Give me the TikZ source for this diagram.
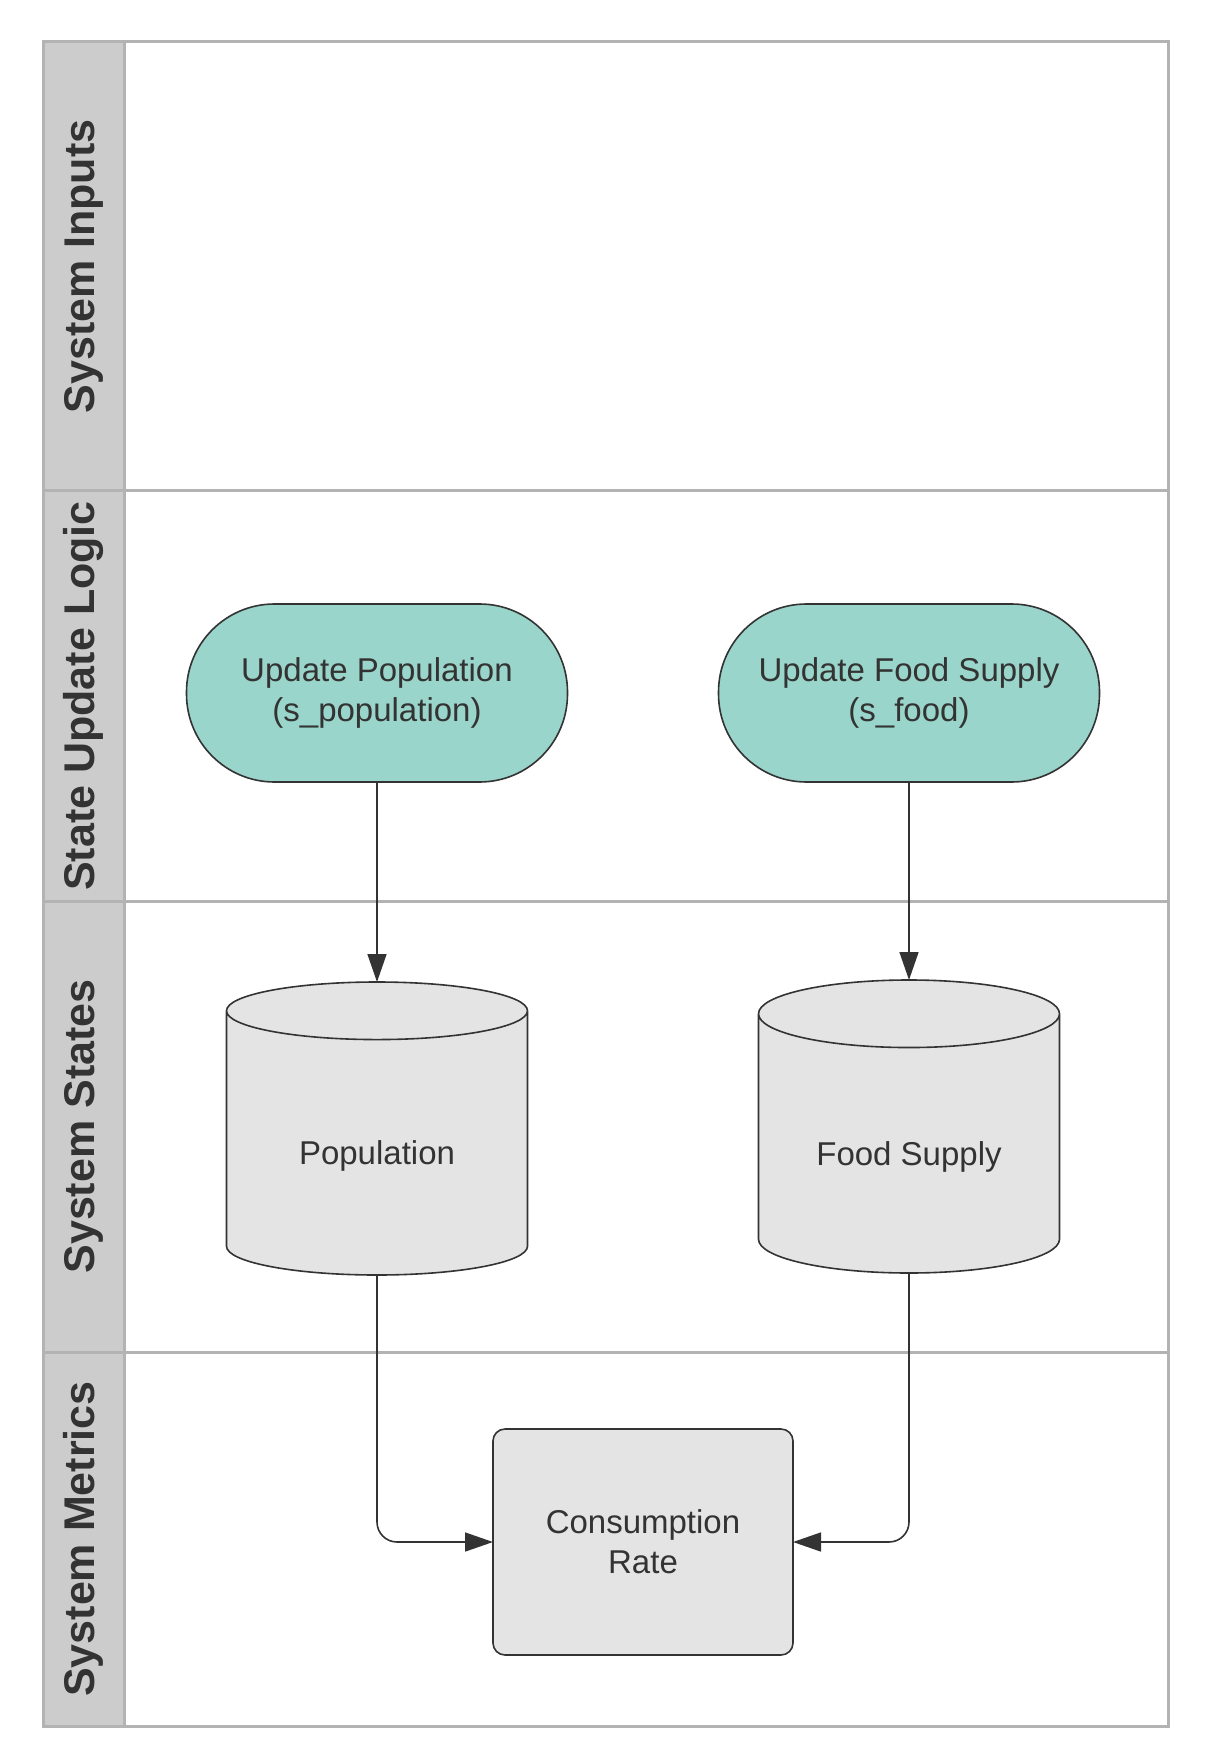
\documentclass[tikz,border=0pt]{standalone}
\usepackage{fontspec}
\setmainfont{Liberation Sans}
\usepackage{xcolor}
\usetikzlibrary{arrows.meta, shapes.geometric, positioning}

\definecolor{lanegray}{HTML}{B3B3B3}
\definecolor{headgray}{HTML}{CCCCCC}
\definecolor{inkgray}{HTML}{333333}
\definecolor{tealfill}{HTML}{99D5CA}
\definecolor{storefill}{HTML}{E4E4E4}

\begin{document}
\begin{tikzpicture}[
    x=0.5pt, y=-0.5pt,
    >={Triangle[length=14pt, width=9.5pt]},
    lane/.style={draw=lanegray, line width=1.5pt},
    lanehead/.style={rotate=90, text=inkgray, font=\fontsize{21.5}{26}\selectfont\bfseries},
    update/.style={draw=inkgray, line width=0.8pt, fill=tealfill, rounded corners=44pt,
        minimum width=190.5pt, minimum height=89pt, align=center, outer sep=0pt,
        text=inkgray, font=\fontsize{16.5}{20}\selectfont},
    store/.style={cylinder, shape border rotate=90, aspect=0.34, draw=inkgray, line width=0.8pt,
        fill=storefill, minimum width=150.5pt, minimum height=146.5pt, outer sep=0pt,
        text height=21pt, text depth=4pt,
        anchor=north, text=inkgray, font=\fontsize{16.5}{20}\selectfont},
    metric/.style={draw=inkgray, line width=0.8pt, fill=storefill, rounded corners=6pt,
        minimum width=150pt, minimum height=113pt, align=center, outer sep=0pt,
        text=inkgray, font=\fontsize{16.5}{20}\selectfont},
    flow/.style={->, draw=inkgray, line width=0.8pt, rounded corners=10pt}
]
    \useasboundingbox (0,0) rectangle (1209,1764);

    % Corsie
    \fill[headgray] (43,42) rectangle (124,1726);
    \draw[lane] (43,42) rectangle (1168,1726);
    \draw[lane] (124,42) -- (124,1726);
    \foreach \y in {491, 901, 1352}
        \draw[lane] (43,\y) -- (1168,\y);

    \node[lanehead] (inputs)  at (83.5, 266.5) {System Inputs};
    \node[lanehead] (logic)   at (83.5, 696)   {State Update Logic};
    \node[lanehead] (states)  at (83.5, 1126.5) {System States};
    \node[lanehead] (metrics) at (83.5, 1539)  {System Metrics};

    % Logica di aggiornamento
    \node[update] (updpop)  at (377, 693) {Update Population\\(s\_population)};
    \node[update] (updfood) at (909, 693) {Update Food Supply\\(s\_food)};

    % Stati
    \node[store] (pop)  at (377, 982) {Population};
    \node[store] (food) at (909, 980) {Food Supply};

    % Metrica
    \node[metric] (rate) at (643, 1542) {Consumption\\Rate};

    % Collegamenti
    \draw[flow] (updpop) -- (pop);
    \draw[flow] (updfood) -- (food);
    \draw[flow] (pop) |- (rate);
    \draw[flow] (food) |- (rate);

\end{tikzpicture}
\end{document}
